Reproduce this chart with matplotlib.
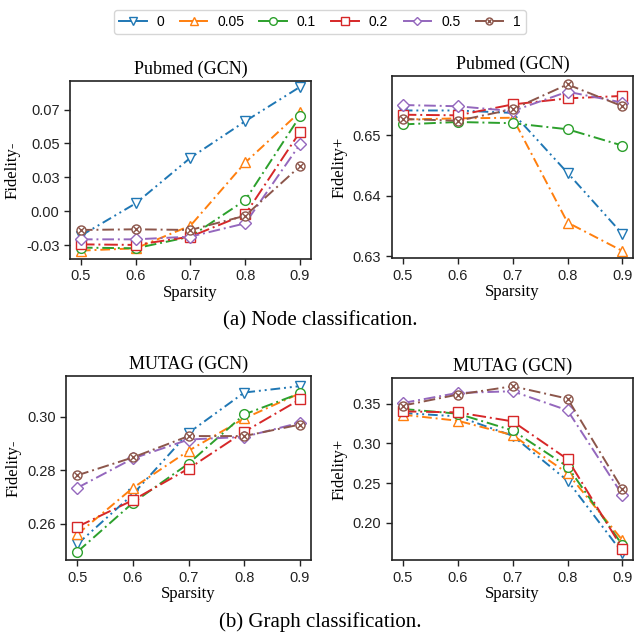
import numpy as np
import matplotlib
matplotlib.use("Agg")
import matplotlib.pyplot as plt
from matplotlib.lines import Line2D

sparsity = [0.5, 0.6, 0.7, 0.8, 0.9]
labels = ["0", "0.05", "0.1", "0.2", "0.5", "1"]

# Pubmed (GCN) Fidelity-
pub_minus = [
    [-0.0179, 0.0059, 0.0395, 0.0664, 0.0917],
    [-0.0289, -0.0272, -0.0105, 0.0360, 0.0733],
    [-0.0267, -0.0272, -0.0186, 0.0083, 0.0701],
    [-0.0243, -0.0247, -0.0186, -0.0022, 0.0586],
    [-0.0206, -0.0206, -0.0186, -0.0088, 0.0495],
    [-0.0137, -0.0132, -0.0137, -0.0032, 0.0333],
]
# Pubmed (GCN) Fidelity+
pub_plus = [
    [0.6541, 0.6541, 0.6537, 0.6438, 0.6337],
    [0.6526, 0.6528, 0.6529, 0.6356, 0.6309],
    [0.6518, 0.6522, 0.6520, 0.6510, 0.6483],
    [0.6534, 0.6533, 0.6551, 0.6561, 0.6565],
    [0.6550, 0.6548, 0.6540, 0.6572, 0.6554],
    [0.6527, 0.6524, 0.6543, 0.6584, 0.6548],
]
# MUTAG (GCN) Fidelity-
mut_minus = [
    [0.2523, 0.2710, 0.2940, 0.3091, 0.3115],
    [0.2560, 0.2734, 0.2873, 0.2994, 0.3088],
    [0.2494, 0.2678, 0.2825, 0.3009, 0.3088],
    [0.2588, 0.2688, 0.2806, 0.2944, 0.3065],
    [0.2734, 0.2844, 0.2915, 0.2925, 0.2978],
    [0.2781, 0.2848, 0.2928, 0.2928, 0.2971],
]
# MUTAG (GCN) Fidelity+
mut_plus = [
    [0.3382, 0.3340, 0.3096, 0.2531, 0.1621],
    [0.3361, 0.3285, 0.3104, 0.2624, 0.1781],
    [0.3433, 0.3374, 0.3163, 0.2708, 0.1718],
    [0.3403, 0.3390, 0.3277, 0.2801, 0.1676],
    [0.3508, 0.3635, 0.3656, 0.3416, 0.2350],
    [0.3475, 0.3614, 0.3719, 0.3563, 0.2422],
]

colors = ["#1f77b4", "#ff7f0e", "#2ca02c", "#d62728", "#9467bd", "#8c564b"]
markers = ["v", "^", "o", "s", "D", "o"]
msizes = [7, 7, 7, 7, 6, 6.5]
dashes = [(0, (5, 2, 1, 2, 1, 2)), (0, (5, 2, 1, 2)), (0, (6, 2, 1, 2)),
          (0, (7, 2, 1, 2)), (0, (6, 2, 1, 2)), (0, (6, 2, 1, 2))]

plt.rcParams["font.family"] = "Liberation Sans"
plt.rcParams["xtick.direction"] = "out"
plt.rcParams["ytick.direction"] = "out"
serif = "Liberation Serif"

fig = plt.figure(figsize=(6.36, 6.33), dpi=100)

panels = [
    ([0.110, 0.591, 0.379, 0.281], pub_minus, "Pubmed (GCN)", "Fidelity-",
     (-0.035, 0.096), [-0.025, 0.0, 0.025, 0.05, 0.075]),
    ([0.616, 0.592, 0.380, 0.288], pub_plus, "Pubmed (GCN)", "Fidelity+",
     (0.6297, 0.6598), [0.63, 0.64, 0.65]),
    ([0.104, 0.115, 0.385, 0.291], mut_minus, "MUTAG (GCN)", "Fidelity-",
     (0.2463, 0.3153), [0.26, 0.28, 0.30]),
    ([0.616, 0.115, 0.380, 0.288], mut_plus, "MUTAG (GCN)", "Fidelity+",
     (0.153, 0.3824), [0.20, 0.25, 0.30, 0.35]),
]

for rect, data, title, ylab, ylim, yticks in panels:
    ax = fig.add_axes(rect)
    for i, series in enumerate(data):
        ax.plot(sparsity, series, color=colors[i], linestyle=dashes[i],
                linewidth=1.4, marker=markers[i], markersize=msizes[i],
                markerfacecolor="white", markeredgecolor=colors[i],
                markeredgewidth=1.0)
        if i == 5:
            # cross inside the circle for the "1" series
            ax.plot(sparsity, series, linestyle="none", marker="x",
                    markersize=4.5, markeredgewidth=1.0, color=colors[i])
    ax.set_xlim(0.48, 0.92)
    ax.set_ylim(*ylim)
    ax.set_xticks(sparsity)
    ax.set_xticklabels(["%.1f" % s for s in sparsity])
    ax.set_yticks(yticks)
    ax.set_yticklabels(["%.2f" % t for t in yticks])
    ax.tick_params(labelsize=10.5, length=4, width=1, colors="#222222")
    for sp in ax.spines.values():
        sp.set_linewidth(1.2)
        sp.set_color("#222222")
    ax.set_title(title, fontsize=13, family=serif, pad=5)
    ax.set_xlabel("Sparsity", fontsize=12, family=serif, labelpad=1)
    ax.set_ylabel(ylab, fontsize=12, family=serif, labelpad=4)

fig.text(0.503, 0.494, "(a) Node classification.", ha="center", va="center",
         fontsize=15, family=serif)
fig.text(0.503, 0.018, "(b) Graph classification.", ha="center", va="center",
         fontsize=15, family=serif)

handles = []
for i in range(6):
    h = Line2D([0], [0], color=colors[i], linestyle="-", linewidth=1.4,
               marker=markers[i], markersize=msizes[i] - 1.5,
               markerfacecolor="white", markeredgecolor=colors[i])
    if i == 5:
        x = Line2D([0], [0], linestyle="none", marker="x", markersize=3.5,
                   color=colors[i])
        h = (h, x)
    handles.append(h)
leg = fig.legend(handles, labels, loc="upper center",
                 bbox_to_anchor=(0.503, 0.995), ncol=6, fontsize=10,
                 frameon=True, handlelength=2.0, columnspacing=1.1,
                 handletextpad=0.7, borderpad=0.35)
leg.get_frame().set_edgecolor("#cccccc")

fig.savefig("out.png", dpi=100)
